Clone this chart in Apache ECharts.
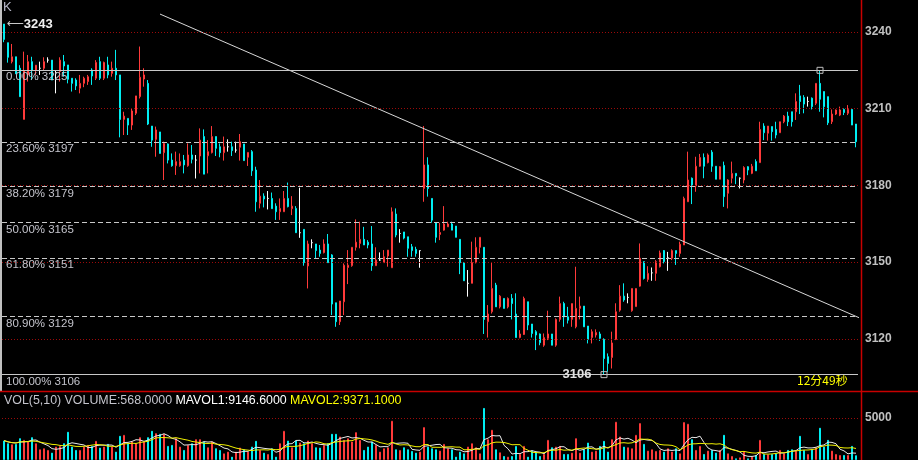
<!DOCTYPE html>
<html><head><meta charset="utf-8">
<script src="https://cdn.jsdelivr.net/npm/echarts@6/dist/echarts.min.js"></script>
<style>html,body{margin:0;padding:0;background:#000}#c{width:918px;height:460px}</style>
</head><body><div id="c"></div>
<script>
const opens = [
3243.1,3235.8,3228.4,3230.3,3225.8,3205.8,3223.2,3228.4,3224.9,3225.8,
3225.8,3229.0,3229.0,3224.1,3224.5,3228.4,3227.1,3221.9,3221.2,3218.0,
3219.9,3220.6,3225.1,3221.9,3228.4,3221.9,3227.1,3223.8,3225.8,3223.2,
3205.8,3206.2,3203.6,3208.2,3214.7,3221.6,3219.9,3203.2,3198.0,3200.9,
3192.8,3196.2,3189.9,3187.7,3187.7,3189.9,3187.7,3191.9,3189.9,3191.5,
3199.1,3191.6,3192.8,3199.1,3195.1,3192.8,3195.1,3195.1,3193.8,3194.9,
3196.2,3191.0,3193.2,3186.0,3173.0,3175.8,3174.9,3174.9,3171.9,3169.7,
3169.7,3174.9,3170.9,3171.0,3161.5,3162.8,3148.5,3157.6,3157.1,3154.7,
3153.7,3157.1,3152.8,3134.1,3126.7,3134.5,3147.9,3148.6,3155.8,3157.3,
3158.9,3157.8,3157.1,3148.6,3150.8,3149.8,3152.4,3147.8,3168.8,3161.2,
3161.8,3159.9,3156.0,3155.0,3154.5,3178.8,3188.0,3174.9,3165.4,3160.8,
3162.5,3163.8,3164.9,3164.1,3158.9,3149.8,3141.7,3141.7,3149.8,3155.8,
3155.8,3126.7,3130.6,3141.0,3132.5,3135.8,3132.5,3135.8,3129.7,3120.5,
3121.7,3134.5,3125.8,3122.8,3121.9,3117.5,3120.2,3121.9,3117.5,3127.6,
3133.8,3128.6,3127.6,3124.7,3131.9,3132.8,3125.0,3120.5,3121.5,3121.9,
3119.8,3113.0,3112.7,3119.8,3131.2,3136.7,3136.2,3131.0,3132.6,3140.6,
3150.2,3143.2,3145.8,3145.6,3148.2,3154.5,3151.7,3151.5,3154.5,3153.4,
3156.7,3173.6,3182.8,3179.8,3187.5,3190.9,3188.9,3193.0,3187.5,3182.4,
3187.8,3176.9,3182.8,3184.7,3182.8,3182.1,3187.3,3184.7,3189.3,3188.9,
3203.2,3200.4,3203.0,3201.9,3200.6,3204.9,3207.1,3208.8,3208.8,3215.0,
3214.4,3212.8,3214.1,3212.1,3219.9,3216.7,3214.7,3204.9,3207.9,3207.5,
3209.7,3208.2,3209.7,3204.0];
const closes = [
3237.1,3230.1,3230.3,3223.6,3214.7,3224.9,3228.4,3224.9,3227.0,3225.8,
3228.4,3229.0,3221.2,3224.1,3229.0,3226.7,3221.5,3219.9,3218.9,3219.9,
3221.9,3222.5,3222.8,3228.1,3221.9,3228.1,3223.2,3225.8,3223.2,3205.8,
3207.1,3203.6,3209.1,3215.0,3222.3,3223.2,3204.0,3197.7,3201.7,3192.5,
3196.4,3189.9,3187.7,3189.3,3189.3,3188.0,3191.9,3190.2,3189.9,3197.7,
3184.4,3193.2,3199.1,3194.5,3192.8,3195.1,3195.1,3193.6,3193.8,3197.1,
3189.7,3192.9,3185.7,3173.6,3175.8,3174.7,3174.9,3170.9,3169.7,3171.0,
3174.9,3171.7,3171.9,3161.5,3161.5,3149.8,3157.1,3157.6,3154.5,3153.4,
3157.1,3149.8,3133.6,3126.7,3134.8,3148.8,3148.8,3155.8,3157.8,3158.9,
3156.7,3156.7,3148.6,3150.8,3150.8,3152.1,3154.7,3169.7,3160.6,3161.2,
3159.4,3155.4,3154.5,3153.4,3154.5,3188.0,3178.8,3166.4,3159.7,3161.6,
3164.9,3164.9,3162.5,3159.7,3149.8,3142.7,3141.7,3149.8,3155.8,3159.7,
3127.6,3129.7,3139.7,3132.5,3136.7,3131.9,3135.8,3133.8,3120.5,3121.9,
3135.8,3125.4,3122.1,3121.5,3118.5,3120.5,3121.9,3117.5,3127.6,3133.8,
3128.6,3127.3,3133.8,3131.9,3132.8,3124.7,3119.8,3122.8,3122.5,3120.2,
3112.3,3110.4,3118.4,3130.6,3136.7,3135.2,3136.2,3139.7,3139.7,3151.5,
3143.6,3145.6,3145.8,3150.2,3153.6,3150.2,3151.7,3154.5,3153.4,3157.0,
3174.9,3182.1,3179.8,3187.5,3190.9,3187.5,3191.9,3187.5,3182.4,3187.3,
3175.6,3182.1,3184.7,3183.7,3182.8,3187.0,3186.0,3187.5,3185.7,3201.9,
3200.6,3203.2,3201.0,3199.7,3204.9,3207.1,3204.9,3204.9,3212.8,3212.8,
3211.8,3212.8,3210.8,3219.9,3213.7,3210.8,3204.5,3207.9,3209.5,3209.5,
3208.5,3209.7,3203.6,3197.1];
const lows = [
3236.0,3228.0,3227.7,3223.6,3214.7,3205.8,3220.6,3221.2,3223.2,3223.2,
3225.1,3228.0,3221.2,3216.0,3220.6,3222.5,3219.9,3216.7,3217.3,3216.0,
3218.4,3219.3,3219.3,3221.2,3221.2,3221.2,3221.9,3222.5,3221.2,3198.8,
3199.7,3199.7,3201.7,3207.5,3214.0,3218.6,3203.6,3195.1,3191.2,3192.5,
3182.1,3188.6,3187.3,3184.1,3187.3,3184.7,3187.3,3188.6,3182.7,3184.7,
3184.4,3184.7,3192.5,3191.5,3191.0,3189.7,3193.2,3191.5,3192.8,3189.7,
3189.7,3187.6,3183.7,3169.7,3171.0,3171.4,3170.6,3170.9,3166.5,3166.5,
3169.7,3171.4,3168.4,3161.5,3159.5,3148.6,3139.7,3155.4,3151.5,3152.1,
3153.4,3149.8,3129.3,3124.7,3125.4,3129.3,3141.4,3148.2,3154.5,3155.4,
3156.7,3155.4,3146.6,3148.6,3150.5,3149.8,3148.2,3147.8,3159.7,3157.6,
3158.9,3152.1,3152.1,3152.1,3147.8,3173.6,3175.6,3165.4,3157.6,3158.6,
3162.3,3163.8,3162.5,3159.7,3145.3,3142.7,3136.5,3141.7,3149.5,3153.4,
3121.9,3120.5,3129.9,3132.5,3131.9,3131.9,3131.9,3127.6,3120.5,3120.2,
3121.5,3123.4,3120.5,3115.6,3117.5,3116.9,3119.5,3117.5,3116.9,3126.7,
3124.7,3126.0,3124.7,3124.1,3127.6,3124.7,3118.2,3118.2,3120.5,3119.2,
3106.0,3107.1,3108.4,3119.5,3130.6,3134.5,3133.9,3130.6,3132.6,3140.4,
3143.2,3142.3,3142.7,3142.7,3147.9,3149.5,3146.6,3150.8,3148.9,3152.1,
3156.7,3173.6,3172.7,3177.5,3187.3,3182.8,3188.6,3185.3,3182.4,3182.4,
3171.6,3171.0,3180.8,3180.5,3178.8,3180.8,3184.0,3184.4,3185.7,3188.9,
3197.7,3197.5,3197.5,3198.4,3200.6,3204.3,3203.2,3203.0,3205.6,3207.9,
3208.2,3210.8,3209.7,3211.4,3208.8,3206.6,3203.6,3204.0,3207.5,3207.1,
3207.5,3207.5,3203.6,3194.9];
const highs = [
3243.1,3235.8,3235.3,3230.3,3227.0,3232.3,3231.0,3230.3,3227.1,3228.4,
3230.1,3230.1,3229.0,3225.1,3230.1,3231.0,3227.1,3221.9,3221.9,3223.2,
3222.5,3223.2,3225.8,3229.0,3230.3,3228.4,3230.3,3228.4,3233.0,3223.2,
3208.8,3206.2,3210.1,3215.0,3234.3,3225.8,3221.2,3203.2,3203.0,3200.9,
3197.1,3196.4,3192.5,3193.2,3192.5,3191.9,3196.4,3195.8,3191.9,3202.3,
3201.9,3197.7,3203.2,3199.1,3196.4,3199.1,3198.0,3197.1,3197.1,3200.1,
3196.2,3192.9,3193.8,3187.3,3182.1,3176.9,3177.8,3177.2,3173.0,3174.9,
3177.8,3181.1,3175.8,3171.9,3179.1,3162.8,3158.4,3158.9,3157.1,3156.7,
3158.9,3161.0,3153.1,3134.1,3134.8,3149.5,3154.7,3155.8,3166.7,3165.8,
3163.8,3158.6,3164.1,3155.8,3153.8,3154.7,3154.7,3171.4,3171.0,3162.9,
3161.8,3159.9,3157.1,3156.0,3154.5,3203.2,3191.0,3174.9,3165.4,3165.4,
3171.9,3165.8,3165.8,3164.1,3158.9,3149.8,3146.9,3158.0,3159.7,3159.7,
3155.8,3133.2,3149.8,3141.9,3137.1,3135.8,3136.2,3137.5,3137.8,3123.4,
3136.5,3134.5,3125.8,3123.4,3122.1,3122.1,3131.0,3121.9,3128.0,3136.5,
3134.5,3132.5,3133.8,3148.2,3136.5,3132.8,3125.0,3123.7,3123.7,3122.8,
3120.2,3114.3,3122.8,3133.9,3141.0,3141.7,3137.8,3139.7,3139.7,3157.3,
3150.2,3148.4,3147.9,3150.8,3154.5,3154.7,3154.0,3155.0,3154.5,3158.0,
3175.6,3193.2,3183.1,3191.2,3192.3,3192.5,3192.5,3193.8,3187.5,3187.5,
3189.3,3182.4,3189.3,3184.7,3183.1,3187.5,3187.5,3188.4,3190.2,3204.9,
3204.3,3203.2,3203.0,3204.9,3204.9,3207.5,3208.8,3208.8,3216.0,3219.3,
3215.3,3214.7,3214.4,3219.9,3225.0,3216.7,3214.7,3209.7,3209.7,3210.8,
3210.1,3211.4,3210.1,3204.0];
const volumes = [
2320,2000,1880,1920,2600,2400,2200,2720,2000,1280,
1400,1200,880,1600,1680,2000,3360,1600,1200,1200,
1600,1800,1680,2280,1480,1600,1920,1600,1000,2880,
3000,2000,2200,2000,2720,2200,2720,3480,3200,3120,
3120,1680,1800,2600,1600,1200,1800,2000,2480,2480,
2200,1520,2200,1400,1200,800,1000,400,1000,1480,
1280,1000,1600,2280,1200,880,720,1400,400,2000,
3480,2320,1520,2320,2080,2000,2320,2000,1520,1480,
1800,2000,3120,3120,2800,2400,2600,2200,3320,2400,
1200,1600,2200,1800,1000,1400,1520,4680,1280,1200,
1520,1280,1080,880,1000,3920,1600,1400,1280,1120,
1920,1400,1280,400,1000,800,1600,2000,1520,800,
6200,2480,3600,1280,920,480,400,480,1680,720,
1680,400,1120,1000,480,720,2400,1520,1600,1680,
720,720,880,2600,880,1280,2080,1000,1120,1680,
2280,1000,2480,4560,2800,1600,1520,1400,3000,4400,
1920,1120,1280,1080,1200,1000,1400,1000,1400,800,
4520,4320,2480,1200,1680,720,1120,1200,880,1200,
3000,800,480,200,320,1000,200,400,600,2400,
720,680,720,800,1200,800,1200,1280,1120,2880,
1200,720,1280,1520,3840,1600,2400,1120,720,600,
600,600,1680,568];

const N = opens.length;
const categories = Array.from({length: N}, (_, i) => String(i + 1));
const priceTicks = [3120, 3150, 3180, 3210, 3240];
const volTicks = [5000];
const fibPct = ['0.00%', '23.60%', '38.20%', '50.00%', '61.80%', '80.90%', '100.00%'];
const fibLevel = [3225, 3196.9, 3179.5, 3165.5, 3151.5, 3128.7, 3106];
const fibText = ['3225', '3197', '3179', '3165', '3151', '3129', '3106'];
const trendX = [39, 214];
const trendY = [3247.0, 3128.1];
const highIdx = 204, lowIdx = 150;

const RED = '#ff3a3a', CYAN = '#00eef2';
const candles = opens.map((o, i) => [o, closes[i], lows[i], highs[i]]);
const volData = volumes.map((v, i) => {
  const up = closes[i] >= opens[i];
  return {value: v, itemStyle: up ? {color: '#000', borderColor: RED, borderWidth: 1} : {color: CYAN, borderColor: CYAN, borderWidth: 1}};
});
function movingAvg(n) {
  return volumes.map((v, i) => {
    const s = volumes.slice(Math.max(0, i - n + 1), i + 1);
    return +(s.reduce((a, b) => a + b, 0) / s.length).toFixed(1);
  });
}
const ma5 = movingAvg(5), ma10 = movingAvg(10);

const gridLines = priceTicks.map(v => ({yAxis: v, lineStyle: {color: '#9b0a0a', width: 1, type: [1, 2]}, label: {show: false}}));
const fibLines = fibLevel.map((lv, i) => ({
  yAxis: lv,
  lineStyle: {color: '#c8c8c8', width: 1, type: (i === 0 || i === fibLevel.length - 1) ? 'solid' : [5, 3]},
  label: {show: true, position: 'insideStartBottom', formatter: fibPct[i] + ' ' + fibText[i],
    color: '#c4c4cc', fontSize: 11.5, fontFamily: 'Liberation Sans', distance: [4, 1]}
}));

const axisLabelStyle = {color: '#c0c0c0', fontSize: 12, fontWeight: 'bold', fontFamily: 'Liberation Sans', margin: 7, formatter: v => String(v)};

const chart = echarts.init(document.getElementById('c'), null, {renderer: 'canvas'});
chart.setOption({
  animation: false,
  backgroundColor: '#000',
  grid: [
    {left: 2, right: 60, top: 0, height: 391, outerBoundsMode: 'none'},
    {left: 2, right: 60, top: 392, height: 68, outerBoundsMode: 'none'}
  ],
  xAxis: [
    {type: 'category', gridIndex: 0, data: categories, boundaryGap: true, axisLine: {show: false}, axisTick: {show: false}, axisLabel: {show: false}, splitLine: {show: false}},
    {type: 'category', gridIndex: 1, data: categories, boundaryGap: true, axisLine: {show: false}, axisTick: {show: false}, axisLabel: {show: false}, splitLine: {show: false}},
    {type: 'value', gridIndex: 0, min: -0.5, max: N - 0.5, show: false}
  ],
  yAxis: [
    {type: 'value', gridIndex: 0, position: 'right', min: 3099.6, max: 3252.5,
      axisLine: {show: false}, axisTick: {show: false}, splitLine: {show: false},
      axisLabel: Object.assign({customValues: priceTicks}, axisLabelStyle)},
    {type: 'value', gridIndex: 1, position: 'right', min: 0, max: 8100,
      axisLine: {show: false}, axisTick: {show: false}, splitLine: {show: false},
      axisLabel: Object.assign({customValues: volTicks}, axisLabelStyle)}
  ],
  series: [
    {type: 'candlestick', xAxisIndex: 0, yAxisIndex: 0, data: candles, barWidth: 2,
      itemStyle: {color: '#000', color0: CYAN, borderColor: RED, borderColor0: CYAN, borderColorDoji: '#ffffff', borderWidth: 1},
      markLine: {symbol: ['none', 'none'], silent: true, animation: false, data: [...gridLines, ...fibLines]},
      markPoint: {silent: true, animation: false, data: [
        {coord: [categories[highIdx], highs[highIdx]], symbol: 'rect', symbolSize: 6,
          itemStyle: {color: 'rgba(0,0,0,0)', borderColor: '#bdbdbd', borderWidth: 1}, label: {show: false}},
        {coord: [categories[lowIdx], lows[lowIdx]], symbol: 'rect', symbolSize: 6,
          itemStyle: {color: 'rgba(0,0,0,0)', borderColor: '#bdbdbd', borderWidth: 1},
          label: {show: true, position: 'left', distance: 9, formatter: String(Math.round(lows[lowIdx])), color: '#e0e0e0', fontSize: 13, fontWeight: 'bold', fontFamily: 'Liberation Sans'}},
        {coord: [categories[0], highs[0]], symbol: 'circle', symbolSize: 1, itemStyle: {color: 'rgba(0,0,0,0)'},
          label: {show: true, position: 'right', distance: 2,
            formatter: '{a|⟵}{b|' + Math.round(highs[0]) + '}',
            rich: {a: {color: '#c8c8c8', fontSize: 12, fontFamily: 'DejaVu Sans'}, b: {color: '#f0f0f0', fontSize: 13, fontWeight: 'bold', fontFamily: 'Liberation Sans'}}}}
      ]}
    },
    {type: 'line', xAxisIndex: 2, yAxisIndex: 0, data: trendX.map((x, i) => [x, trendY[i]]), symbol: 'none', clip: false,
      lineStyle: {color: '#d8d8d8', width: 1}, silent: true},
    {type: 'bar', xAxisIndex: 1, yAxisIndex: 1, data: volData, barWidth: 2,
      markLine: {symbol: ['none', 'none'], silent: true, animation: false, label: {show: false},
        data: volTicks.map(v => ({yAxis: v, lineStyle: {color: '#9b0a0a', width: 1, type: [1, 2]}}))}},
    {type: 'line', xAxisIndex: 1, yAxisIndex: 1, data: ma5, symbol: 'none', lineStyle: {color: '#e8e8e8', width: 1}, silent: true},
    {type: 'line', xAxisIndex: 1, yAxisIndex: 1, data: ma10, symbol: 'none', lineStyle: {color: '#f0f000', width: 1}, silent: true}
  ],
  graphic: [
    {type: 'line', silent: true, shape: {x1: 1, y1: 0, x2: 1, y2: 391}, style: {stroke: '#c0c0c0', lineWidth: 2}},
    {type: 'line', silent: true, shape: {x1: 0, y1: 391.5, x2: 918, y2: 391.5}, style: {stroke: '#c80000', lineWidth: 1.5}},
    {type: 'line', silent: true, shape: {x1: 861.5, y1: 0, x2: 861.5, y2: 460}, style: {stroke: '#c80000', lineWidth: 1.5}},
    {type: 'text', silent: true, left: 3, top: 1, style: {text: 'K', fill: '#b8b8c8', font: '13px "Liberation Sans"'}},
    {type: 'text', silent: true, left: 797, top: 374, style: {text: '12分49秒', fill: '#ffff00', font: '12px "Noto Sans CJK SC"'}},
    {type: 'text', silent: true, left: 4, top: 395, style: {
      text: '{a|VOL(5,10) VOLUME:568.0000} {b|MAVOL1:9146.6000} {c|MAVOL2:9371.1000}',
      rich: {a: {fill: '#c4c4cc', fontSize: 12.4, fontFamily: 'Liberation Sans'},
             b: {fill: '#ffffff', fontSize: 12.4, fontFamily: 'Liberation Sans'},
             c: {fill: '#ffff00', fontSize: 12.4, fontFamily: 'Liberation Sans'}}}}
  ]
});
</script></body></html>
